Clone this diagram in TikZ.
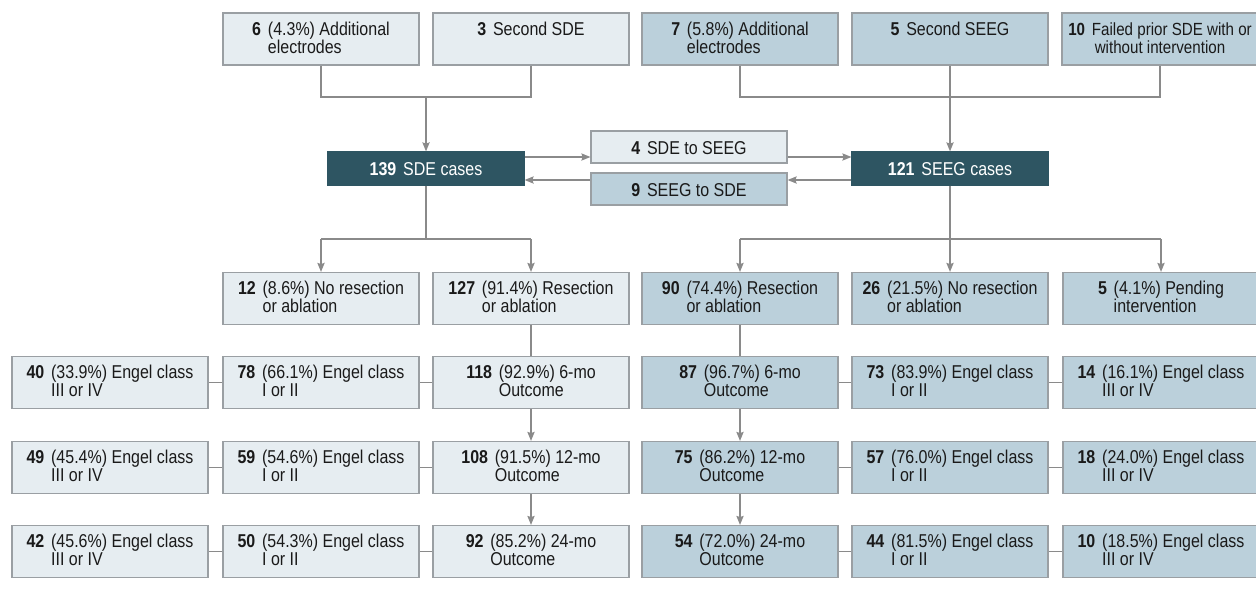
\documentclass[tikz,border=0pt]{standalone}
\usepackage{fontspec}
\setmainfont{Liberation Sans}[FakeStretch=0.86]
\usetikzlibrary{arrows.meta}
\definecolor{lbox}{HTML}{E6EDF1}
\definecolor{rbox}{HTML}{BBD0DB}
\definecolor{dbox}{HTML}{2E5562}
\definecolor{bord}{HTML}{9A9FA3}
\definecolor{conn}{HTML}{8A8A8A}
\definecolor{ink}{HTML}{1A1A1A}
\newcommand\nm[1]{\textbf{#1}\hspace{3.4pt}}
\newcommand\hb[3]{\nm{#1}\vtop{\baselineskip=9pt\lineskiplimit=-\maxdimen\hbox{#2}\hbox{#3}}}
\newsavebox\myLineBox
\newcommand\cb[2]{\sbox\myLineBox{#1}\vtop{\baselineskip=9pt\lineskiplimit=-\maxdimen\hbox{\usebox\myLineBox}\hbox to \wd\myLineBox{\hss#2\hss}}}
\tikzset{
  x=0.5pt, y=-0.5pt,
  box/.style={draw=bord, line width=0.6pt, minimum width=98pt, inner xsep=0pt, inner ysep=0pt,
    text height=11pt, text depth=15pt, font=\fontsize{9.3}{10}\selectfont, text=ink},
  lb/.style={box, fill=lbox},
  rb/.style={box, fill=rbox},
  sb/.style={text height=11.5pt, text depth=4.5pt},
  db/.style={box, fill=dbox, draw=dbox, text=white, text height=11.75pt, text depth=4.75pt},
  ln/.style={draw=conn, line width=0.7pt},
  arr/.style={ln, -{Stealth[length=4.5pt,width=3.6pt,inset=0.6pt]}}
}
\begin{document}
\begin{tikzpicture}
\useasboundingbox (0,0) rectangle (1256,594);
% top row
\node[lb] (A) at (321,39) {\hb{6}{(4.3\%) Additional}{electrodes}};
\node[lb] (B) at (531,39) {\nm{3}Second SDE};
\node[rb] (C) at (740,39) {\hb{7}{(5.8\%) Additional}{electrodes}};
\node[rb] (D) at (950,39) {\nm{5}Second SEEG};
\node[rb, font=\fontsize{8.8}{10}\selectfont] (E) at (1160,39) {\cb{\nm{10}Failed prior SDE with or}{without intervention}};
% middle
\node[db] (sde) at (426,168.5) {\nm{139}SDE cases};
\node[db] (seeg) at (950,168.5) {\nm{121}SEEG cases};
\node[lb,sb] (s2s) at (689,147) {\nm{4}SDE to SEEG};
\node[rb,sb] (e2s) at (689,189) {\nm{9}SEEG to SDE};
% branch row
\node[lb] (nr1) at (321,298.5) {\hb{12}{(8.6\%) No resection}{or ablation}};
\node[lb] (r1) at (531,298.5) {\hb{127}{(91.4\%) Resection}{or ablation}};
\node[rb] (r2) at (740,298.5) {\hb{90}{(74.4\%) Resection}{or ablation}};
\node[rb] (nr2) at (950,298.5) {\hb{26}{(21.5\%) No resection}{or ablation}};
\node[rb] (pend) at (1161,298.5) {\hb{5}{(4.1\%) Pending}{intervention}};
% row 1
\node[lb] (e40) at (110,382.5) {\hb{40}{(33.9\%) Engel class}{III or IV}};
\node[lb] (e78) at (321,382.5) {\hb{78}{(66.1\%) Engel class}{I or II}};
\node[lb] (o6) at (531,382.5) {\hb{118}{(92.9\%) 6-mo}{Outcome}};
\node[rb] (p6) at (740,382.5) {\hb{87}{(96.7\%) 6-mo}{Outcome}};
\node[rb] (f73) at (950,382.5) {\hb{73}{(83.9\%) Engel class}{I or II}};
\node[rb] (f14) at (1161,382.5) {\hb{14}{(16.1\%) Engel class}{III or IV}};
% row 2
\node[lb] (e49) at (110,467.5) {\hb{49}{(45.4\%) Engel class}{III or IV}};
\node[lb] (e59) at (321,467.5) {\hb{59}{(54.6\%) Engel class}{I or II}};
\node[lb] (o12) at (531,467.5) {\hb{108}{(91.5\%) 12-mo}{Outcome}};
\node[rb] (p12) at (740,467.5) {\hb{75}{(86.2\%) 12-mo}{Outcome}};
\node[rb] (f57) at (950,467.5) {\hb{57}{(76.0\%) Engel class}{I or II}};
\node[rb] (f18) at (1161,467.5) {\hb{18}{(24.0\%) Engel class}{III or IV}};
% row 3
\node[lb] (e42) at (110,551.5) {\hb{42}{(45.6\%) Engel class}{III or IV}};
\node[lb] (e50) at (321,551.5) {\hb{50}{(54.3\%) Engel class}{I or II}};
\node[lb] (o24) at (531,551.5) {\hb{92}{(85.2\%) 24-mo}{Outcome}};
\node[rb] (p24) at (740,551.5) {\hb{54}{(72.0\%) 24-mo}{Outcome}};
\node[rb] (f44) at (950,551.5) {\hb{44}{(81.5\%) Engel class}{I or II}};
\node[rb] (f10) at (1161,551.5) {\hb{10}{(18.5\%) Engel class}{III or IV}};
% junctions
\coordinate (j1) at (426,97);
\coordinate (j2) at (950,97);
\coordinate (k1) at (426,239);
\coordinate (k2) at (950,239);
\coordinate (ya) at (0,157);
\coordinate (yb) at (0,180);
% top connectors
\draw[ln] (A.south) |- (j1);
\draw[ln] (B.south) |- (j1);
\draw[arr] (j1) -- (sde.north);
\draw[ln] (C.south) |- (j2);
\draw[ln] (E.south) |- (j2);
\draw[ln] (D.south) -- (j2);
\draw[arr] (j2) -- (seeg.north);
% crossovers
\draw[arr] (sde.east |- ya) -- (s2s.west |- ya);
\draw[arr] (s2s.east |- ya) -- (seeg.west |- ya);
\draw[arr] (seeg.west |- yb) -- (e2s.east |- yb);
\draw[arr] (e2s.west |- yb) -- (sde.east |- yb);
% branches
\draw[ln] (sde.south) -- (k1);
\draw[ln] (nr1.north |- k1) -- (r1.north |- k1);
\draw[arr] (nr1.north |- k1) -- (nr1.north);
\draw[arr] (r1.north |- k1) -- (r1.north);
\draw[ln] (seeg.south) -- (k2);
\draw[ln] (r2.north |- k2) -- (pend.north |- k2);
\draw[arr] (r2.north |- k2) -- (r2.north);
\draw[arr] (k2) -- (nr2.north);
\draw[arr] (pend.north |- k2) -- (pend.north);
% outcomes left
\draw[ln] (r1.south) -- (o6.north);
\draw[arr] (o6.south) -- (o12.north);
\draw[arr] (o12.south) -- (o24.north);
\draw[ln] (o6.west) -- (e78.east);
\draw[ln] (e78.west) -- (e40.east);
\draw[ln] (o12.west) -- (e59.east);
\draw[ln] (e59.west) -- (e49.east);
\draw[ln] (o24.west) -- (e50.east);
\draw[ln] (e50.west) -- (e42.east);
% outcomes right
\draw[ln] (r2.south) -- (p6.north);
\draw[arr] (p6.south) -- (p12.north);
\draw[arr] (p12.south) -- (p24.north);
\draw[ln] (p6.east) -- (f73.west);
\draw[ln] (f73.east) -- (f14.west);
\draw[ln] (p12.east) -- (f57.west);
\draw[ln] (f57.east) -- (f18.west);
\draw[ln] (p24.east) -- (f44.west);
\draw[ln] (f44.east) -- (f10.west);
\end{tikzpicture}
\end{document}
